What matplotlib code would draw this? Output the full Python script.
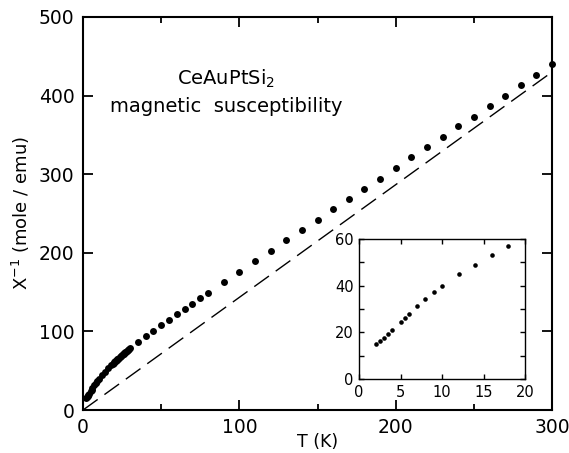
import matplotlib
matplotlib.use("Agg")
import matplotlib.pyplot as plt
import numpy as np

# data (T in K, inverse susceptibility in mole/emu)
temp_low = [2.0, 2.5, 3.0, 3.5, 4.0, 5.0, 5.5, 6.0, 7.0, 8.0, 9.0, 10.0,
            12.0, 14.0, 16.0, 18.0]
chi_inv_low = [15.0, 16.3, 17.7, 19.3, 21.0, 24.4, 26.0, 27.9, 31.2, 34.3, 37.2, 39.8,
               44.8, 48.9, 53.1, 57.1]

# dense band between 18 and 30 K in the main panel
temp_mid = [19, 19.5, 20, 20.5, 21, 21.5, 22, 22.5, 23, 23.5, 24, 24.5, 25, 25.5,
            26, 26.5, 27, 27.5, 28, 28.5, 29, 29.5, 30]
chi_inv_mid = [59.0, 60.0, 60.9, 61.8, 62.8, 63.7, 64.6, 65.5, 66.4, 67.3, 68.2, 69.1,
               70.0, 70.8, 71.7, 72.5, 73.4, 74.2, 75.1, 76.0, 76.8, 77.6, 78.5]

temp_high = [35, 40, 45, 50, 55, 60, 65, 70, 75, 80, 90, 100, 110, 120, 130, 140,
             150, 160, 170, 180, 190, 200, 210, 220, 230, 240, 250, 260, 270, 280,
             290, 300]
chi_inv_high = [86.9, 94.6, 100.9, 108.0, 114.5, 121.7, 128.0, 134.9, 142.5, 149.3,
                162.8, 176.0, 189.0, 202.0, 215.8, 229.0, 241.7, 255.3, 268.4, 281.6,
                294.3, 308.5, 322.0, 335.0, 347.7, 361.3, 373.2, 387.2, 399.9, 413.0,
                426.2, 440.2]

# dashed Curie-Weiss line end points
line_t = [0, 300]
line_chi = [0, 430]

T = np.array(temp_low + temp_mid + temp_high)
chi = np.array(chi_inv_low + chi_inv_mid + chi_inv_high)

fig = plt.figure(figsize=(5.69, 4.53), dpi=100)
ax = fig.add_axes([0.1459, 0.0949, 0.8243, 0.8676])

ax.plot(T, chi, "o", color="k", ms=5.0, mec="none", clip_on=False, zorder=3)
ax.plot(line_t, line_chi, color="k", lw=1.0, dashes=(13, 6))

ax.set_xlim(0, 300)
ax.set_ylim(0, 500)
ax.set_xticks([0, 100, 200, 300])
ax.set_xticks([50, 150, 250], minor=True)
ax.set_yticks([0, 100, 200, 300, 400, 500])
ax.tick_params(which="both", direction="in", top=True, right=True, width=1.3)
ax.tick_params(which="major", length=7, labelsize=13.5, pad=6)
ax.tick_params(which="minor", length=4.5)
ax.tick_params(axis="x", pad=6)
for s in ax.spines.values():
    s.set_linewidth(1.5)

ax.set_xlabel("T (K)", fontsize=12.5)
ax.xaxis.set_label_coords(0.5, -0.058)
ax.set_ylabel("X$^{-1}$ (mole / emu)", fontsize=13, labelpad=5)

ax.text(0.305, 0.842, "CeAuPtSi$_2$", transform=ax.transAxes,
        ha="center", va="center", fontsize=14)
ax.text(0.305, 0.772, "magnetic  susceptibility", transform=ax.transAxes,
        ha="center", va="center", fontsize=14)

# inset: low temperature part
axin = fig.add_axes([0.631, 0.1634, 0.2917, 0.3090])
axin.plot(temp_low, chi_inv_low, "o", color="k", ms=3.3, mec="none")
axin.set_xlim(0, 20)
axin.set_ylim(0, 60)
axin.set_xticks([0, 5, 10, 15, 20])
axin.set_yticks([0, 20, 40, 60])
axin.set_yticks([10, 30, 50], minor=True)
axin.tick_params(which="both", direction="in", top=True, right=True,
                 length=3.5, width=1.0, labelsize=10.5, pad=4)
for s in axin.spines.values():
    s.set_linewidth(1.0)

fig.savefig("out.png", dpi=100)
